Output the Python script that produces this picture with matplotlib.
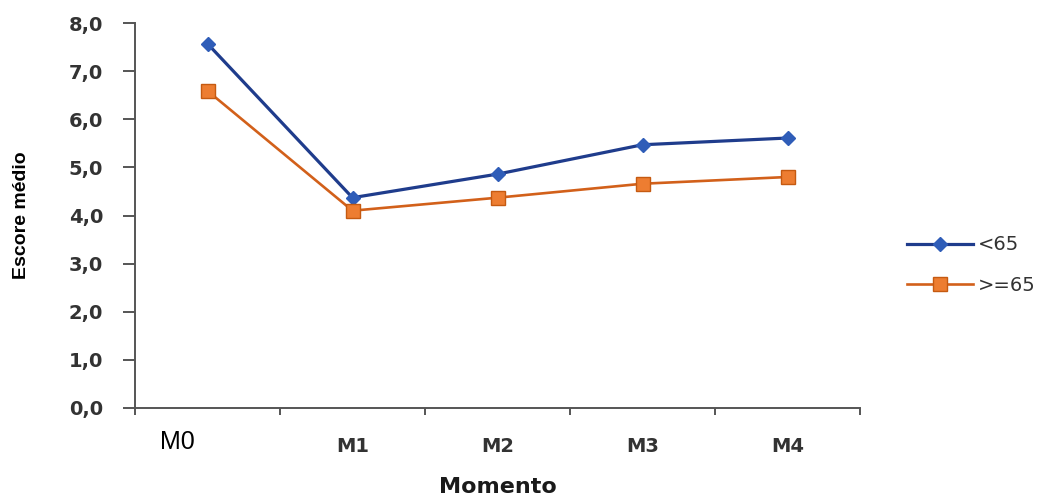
import matplotlib
matplotlib.use("Agg")
import matplotlib.pyplot as plt
from matplotlib.ticker import FixedLocator, FuncFormatter, NullFormatter
import matplotlib.transforms as mtransforms

# Data
momentos = ["M0", "M1", "M2", "M3", "M4"]
menor_65 = [7.57, 4.37, 4.86, 5.47, 5.61]
maior_igual_65 = [6.59, 4.10, 4.37, 4.66, 4.80]
series_labels = ["<65", ">=65"]
y_ticks = [0, 1, 2, 3, 4, 5, 6, 7, 8]

blue_line = "#1F3C8C"
blue_marker = "#2F5DB8"
orange_line = "#D2601A"
orange_fill = "#ED7D31"
orange_edge = "#C55A11"
text_grey = "#333333"
axis_grey = "#555555"

fig = plt.figure(figsize=(10.48, 4.99), dpi=100)
ax = fig.add_axes([135 / 1048, 1 - 408 / 499, (860 - 135) / 1048, (408 - 23) / 499])

x = list(range(len(momentos)))
ax.plot(x, menor_65, color=blue_line, lw=2.3, marker="D", ms=7.5,
        mfc=blue_marker, mec=blue_marker, label=series_labels[0], zorder=3)
ax.plot(x, maior_igual_65, color=orange_line, lw=1.9, marker="s", ms=10.5,
        mfc=orange_fill, mec=orange_edge, mew=1.0, label=series_labels[1], zorder=3)

ax.set_xlim(-0.5, len(momentos) - 0.5)
ax.set_ylim(0, 8)

for s in ["top", "right"]:
    ax.spines[s].set_visible(False)
for s in ["left", "bottom"]:
    ax.spines[s].set_color(axis_grey)
    ax.spines[s].set_linewidth(1.4)

# y axis: comma decimal labels
ax.yaxis.set_major_locator(FixedLocator(y_ticks))
ax.yaxis.set_major_formatter(FuncFormatter(lambda v, p: f"{v:.1f}".replace(".", ",")))
ax.tick_params(axis="y", direction="out", length=9, width=1.4, color=axis_grey,
               pad=14, labelsize=14, labelcolor=text_grey)
for t in ax.get_yticklabels():
    t.set_fontweight("bold")

# x axis: ticks at category boundaries, labels at category centres
ax.xaxis.set_major_locator(FixedLocator([i - 0.5 for i in range(len(momentos) + 1)]))
ax.xaxis.set_major_formatter(NullFormatter())
ax.tick_params(axis="x", direction="out", length=5, width=1.4, color=axis_grey)

trans = mtransforms.blended_transform_factory(ax.transData, fig.transFigure)
for i, lab in enumerate(momentos):
    if i == 0:
        ax.text(i - 0.21, 1 - 442 / 499, lab, transform=trans, ha="center", va="center",
                fontsize=18, family="Liberation Sans", color="black")
    else:
        ax.text(i, 1 - 446 / 499, lab, transform=trans, ha="center", va="center",
                fontsize=14, fontweight="bold", family="DejaVu Sans", color=text_grey)

fig.text(498 / 1048, 2 / 499, "Momento", ha="center", va="bottom",
         fontsize=16, fontweight="bold", family="DejaVu Sans", color="#1a1a1a")
fig.text(22 / 1048, 1 - 215 / 499, "Escore médio", ha="center", va="center",
         rotation=90, fontsize=14, fontweight="bold", family="Liberation Sans",
         color="black")

fig.legend(loc="center left", bbox_to_anchor=(907 / 1048, 1 - 265 / 499),
           frameon=False, handlelength=3.4, handletextpad=0.25,
           labelspacing=1.1, borderpad=0, borderaxespad=0,
           prop={"family": "DejaVu Sans", "size": 14})
for t in fig.legends[0].get_texts():
    t.set_color(text_grey)

fig.savefig("out.png", dpi=100)
